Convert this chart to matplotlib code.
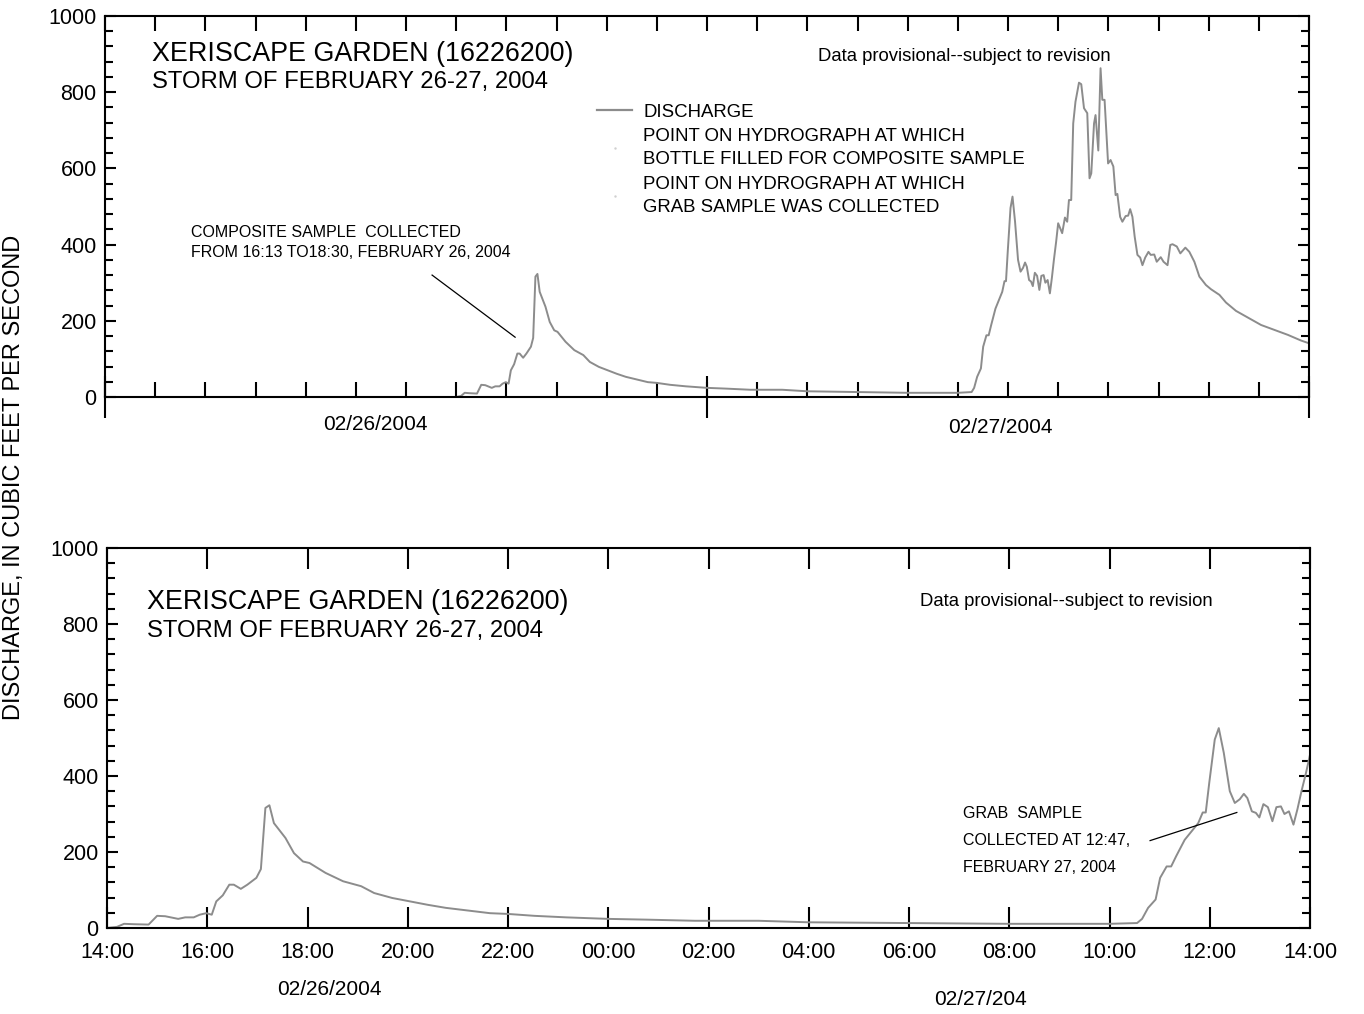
import matplotlib
matplotlib.use("Agg")
from matplotlib import pyplot as plt
from matplotlib import transforms
from matplotlib.ticker import MultipleLocator, NullFormatter
from matplotlib.lines import Line2D

plt.rcParams['font.family'] = ['Liberation Sans', 'DejaVu Sans']

# ---------------- DATA ----------------
# hours counted from 02/26/2004 00:00, discharge in cubic feet per second
hours = [2.5, 14.0, 14.2, 14.34, 14.53, 14.83, 15.0, 15.16, 15.42, 15.56, 15.73,
         15.85, 15.98, 16.09, 16.18, 16.31, 16.44, 16.53, 16.67, 16.8, 16.98,
         17.07, 17.16, 17.24, 17.33, 17.56, 17.73, 17.91, 18.04, 18.36, 18.71,
         19.07, 19.33, 19.69, 20.04, 20.4, 20.76, 21.2, 21.64, 22.0, 22.53,
         23.16, 23.6, 24.0, 24.76, 25.73, 26.3, 27.0, 28.0, 30.0, 32.0, 34.0,
         34.55, 34.65, 34.77, 34.92, 35.01, 35.14, 35.23, 35.33, 35.5, 35.63,
         35.77, 35.86, 35.92, 35.99, 36.1, 36.18, 36.28, 36.4, 36.5, 36.6,
         36.68, 36.75, 36.84, 36.92, 36.99, 37.07, 37.16, 37.25, 37.33, 37.42,
         37.49, 37.58, 37.67, 37.75, 37.83, 37.92, 38.0, 38.16, 38.27, 38.36,
         38.43, 38.52, 38.6, 38.69, 38.83, 38.92, 39.03, 39.16, 39.25, 39.32,
         39.43, 39.49, 39.6, 39.69, 39.76, 39.85, 39.99, 40.09, 40.2, 40.29,
         40.36, 40.47, 40.56, 40.69, 40.79, 40.87, 40.96, 41.05, 41.16, 41.27,
         41.36, 41.47, 41.6, 41.69, 41.83, 41.93, 42.09, 42.2, 42.36, 42.47,
         42.56, 42.73, 42.87, 43.07, 43.23, 43.43, 43.63, 43.89, 44.09, 44.43,
         44.69, 45.09, 45.63, 46.09, 46.63, 47.16, 47.69, 48.0]

discharge = [0, 0, 3, 11, 10, 9, 32, 31, 24, 28, 28,
             35, 39, 35, 70, 86, 114, 114, 103, 114, 132,
             155, 316, 323, 276, 237, 197, 175, 171, 145, 123,
             110, 92, 79, 70, 61, 53, 46, 39, 37, 32,
             28, 26, 24, 22, 19, 19, 19, 15, 13, 11, 11,
             13, 24, 53, 75, 132, 162, 162, 189, 232, 253,
             276, 304, 304, 382, 496, 526, 461, 360, 329, 339,
             353, 342, 307, 303, 291, 326, 318, 281, 318, 320,
             300, 307, 272, 313, 360, 408, 456, 430, 471, 460,
             517, 517, 718, 775, 825, 821, 758, 745, 574, 587,
             718, 740, 647, 863, 780, 780, 613, 622, 605, 530,
             533, 473, 460, 475, 476, 493, 473, 421, 373, 366,
             346, 366, 381, 373, 374, 355, 367, 355, 346, 399,
             401, 395, 377, 392, 381, 355, 316, 294, 283, 268,
             248, 226, 206, 189, 176, 163, 148, 141]

day_ticks = [0, 24, 48]
hour_ticks = list(range(14, 39, 2))
hour_labels = [f"{h % 24:02d}:00" for h in hour_ticks]

title1 = "XERISCAPE GARDEN (16226200)"
title2 = "STORM OF FEBRUARY 26-27, 2004"
provisional = "Data provisional--subject to revision"

line_color = "#8c8c8c"
tick_size = 15.5

fig = plt.figure(figsize=(13.64, 10.14), dpi=100)
ax1 = fig.add_axes([105 / 1364, 1 - 397 / 1014, 1204 / 1364, 381 / 1014])
ax2 = fig.add_axes([107 / 1364, 1 - 928 / 1014, 1203 / 1364, 380 / 1014])


def style_y(ax):
    ax.set_ylim(0, 1000)
    ax.yaxis.set_major_locator(MultipleLocator(200))
    ax.yaxis.set_minor_locator(MultipleLocator(40))
    ax.tick_params(axis='y', which='both', direction='in', left=True, right=True,
                   width=1.5, labelsize=tick_size, pad=6)
    ax.tick_params(axis='y', which='major', length=8)
    ax.tick_params(axis='y', which='minor', length=6)
    for sp in ax.spines.values():
        sp.set_linewidth(1.5)


# ---------------- TOP PANEL ----------------
ax1.plot(hours, discharge, color=line_color, lw=1.4)
ax1.set_xlim(0, 48)
style_y(ax1)
ax1.set_xticks(day_ticks)
ax1.xaxis.set_minor_locator(MultipleLocator(2))
ax1.xaxis.remove_overlapping_locs = False
ax1.xaxis.set_major_formatter(NullFormatter())
ax1.tick_params(axis='x', which='major', direction='inout', length=30, width=1.5,
                bottom=True, top=False)
ax1.tick_params(axis='x', which='minor', direction='in', length=11, width=1.5,
                bottom=True, top=True)

ax1.text(0.039, 0.901, title1, transform=ax1.transAxes, fontsize=19.4, va='center')
ax1.text(0.039, 0.827, title2, transform=ax1.transAxes, fontsize=17.2, va='center')
ax1.text(0.592, 0.894, provisional, transform=ax1.transAxes, fontsize=13.3, va='center')

# composite sample note with leader line
ax1.plot([13.04, 16.35], [320, 157], color='black', lw=0.9)
ax1.text(0.0714, 0.406, "COMPOSITE SAMPLE  COLLECTED\nFROM 16:13 TO18:30, FEBRUARY 26, 2004",
         transform=ax1.transAxes, fontsize=11.5, va='center', linespacing=1.45)

handles = [Line2D([], [], color=line_color, lw=1.6),
           Line2D([], [], ls='none', marker='.', ms=1.5, color='#d0d0d0'),
           Line2D([], [], ls='none', marker='.', ms=1.5, color='#d0d0d0')]
labels = ["DISCHARGE",
          "POINT ON HYDROGRAPH AT WHICH\nBOTTLE FILLED FOR COMPOSITE SAMPLE",
          "POINT ON HYDROGRAPH AT WHICH\nGRAB SAMPLE WAS COLLECTED"]
leg = ax1.legend(handles, labels, loc='upper left', bbox_to_anchor=(0.4086, 0.77),
                 frameon=False, fontsize=13.4, borderpad=0, borderaxespad=0,
                 handlelength=1.9, handletextpad=0.6, labelspacing=0.42)
for t in leg.get_texts():
    t.set_linespacing(1.45)

tr1 = transforms.blended_transform_factory(ax1.transData, ax1.transAxes)
ax1.text(10.76, -0.071, "02/26/2004", transform=tr1, fontsize=15, ha='center', va='center')
ax1.text(35.7, -0.081, "02/27/2004", transform=tr1, fontsize=15, ha='center', va='center')

# ---------------- BOTTOM PANEL ----------------
ax2.plot(hours, discharge, color=line_color, lw=1.4)
ax2.set_xlim(14, 38)
style_y(ax2)
ax2.set_xticks(hour_ticks)
ax2.set_xticklabels(hour_labels)
ax2.tick_params(axis='x', which='major', direction='in', length=15, width=1.5,
                bottom=True, top=True, labelsize=tick_size, pad=10)

ax2.text(0.0333, 0.858, title1, transform=ax2.transAxes, fontsize=19.4, va='center')
ax2.text(0.0333, 0.782, title2, transform=ax2.transAxes, fontsize=17.2, va='center')
ax2.text(0.676, 0.858, provisional, transform=ax2.transAxes, fontsize=13.3, va='center')

# grab sample note with leader line
ax2.plot([34.81, 36.54], [230, 304], color='black', lw=0.9)
ax2.text(0.7116, 0.231, "GRAB  SAMPLE\nCOLLECTED AT 12:47,\nFEBRUARY 27, 2004",
         transform=ax2.transAxes, fontsize=11.5, va='center', linespacing=2.0)

tr2 = transforms.blended_transform_factory(ax2.transData, ax2.transAxes)
ax2.text(18.43, -0.163, "02/26/2004", transform=tr2, fontsize=15, ha='center', va='center')
ax2.text(31.42, -0.189, "02/27/204", transform=tr2, fontsize=15, ha='center', va='center')

fig.text(14 / 1364, 1 - 477 / 1014, "DISCHARGE, IN CUBIC FEET PER SECOND",
         rotation=90, fontsize=17, ha='center', va='center')

fig.savefig("out.png", dpi=100)
